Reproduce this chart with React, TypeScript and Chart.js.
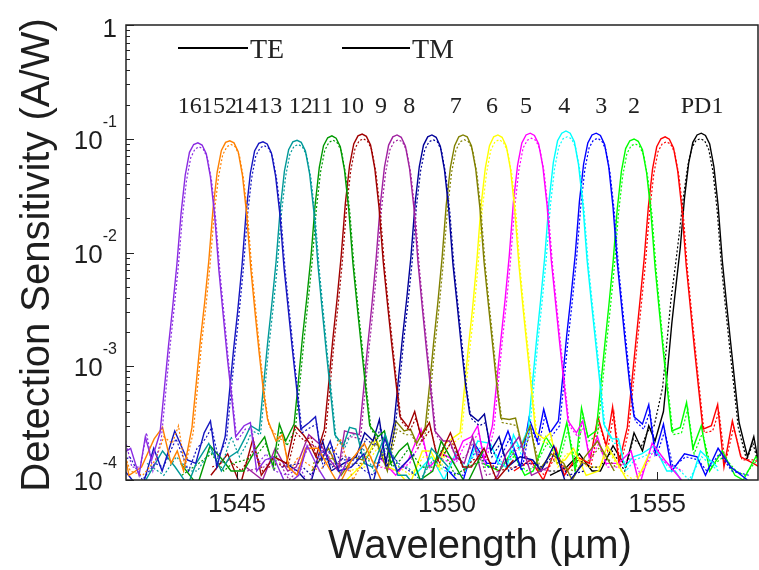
import React, { useEffect, useRef } from "react";
import { Chart, registerables } from "chart.js";

Chart.register(...registerables);

// ---------------- data ----------------
const X_MIN = 1542.36;
const X_MAX = 1557.4;
const Y_MIN = 1e-4;
const Y_MAX = 1;
const X_TICKS = [1545, 1550, 1555];
const Y_TICK_EXPONENTS = [0, -1, -2, -3, -4];

const CHANNEL_NAMES = ["16", "15", "14", "13", "12", "11", "10", "9", "8", "7", "6", "5", "4", "3", "2", "PD1"];
const CHANNEL_COLORS = ["#8A2BE2", "#FF8000", "#1515C0", "#009999", "#009900", "#A00000", "#A020A0", "#000099", "#808000", "#FFFF00", "#FF00FF", "#00FFFF", "#0000FF", "#00FF00", "#FF0000", "#000000"];

// wavelength offsets (nm) from each channel centre at which values were read: main lobe ...
const WAVELENGTH_OFFSETS = [-2.4, -1.8, -1.4, -1.1, -0.9, -0.8, -0.7, -0.6, -0.5, -0.4, -0.3, -0.2, -0.1, 0, 0.1, 0.2, 0.3, 0.4, 0.5, 0.6, 0.7, 0.8, 0.9, 1.1, 1.4, 1.8, 2.4];
// ... and the noise floor around it
const FLOOR_OFFSETS = [-3.6, -3.2, -2.9, -2.6, -2.1, -1.6, -1.25, 1.25, 1.6, 2.1, 2.6, 2.9, 3.2, 3.6];

const TE_CENTERS = [1544.07, 1544.83, 1545.62, 1546.43, 1547.26, 1547.98, 1548.81, 1549.64, 1550.38, 1551.21, 1551.98, 1552.83, 1553.55, 1554.45, 1555.19, 1556.05];
const TM_CENTERS = [1544.10, 1544.86, 1545.65, 1546.46, 1547.29, 1548.01, 1548.84, 1549.67, 1550.41, 1551.24, 1552.01, 1552.86, 1553.58, 1554.48, 1555.22, 1556.03];

const TE_CH16 = [1.3e-4, 1.7e-4, 1.1e-4, 1.5e-4, 2.6e-4, 6.2e-4, 1.5e-3, 3.3e-3, 7.8e-3, 0.022, 0.048, 0.076, 0.089, 0.092, 0.088, 0.074, 0.046, 0.021, 7.0e-3, 2.9e-3, 1.2e-3, 5.5e-4, 2.4e-4, 3.0e-4, 1.2e-4, 1.6e-4, 1.1e-4];
const TE_CH15 = [1.1e-4, 2.3e-4, 1.4e-4, 1.2e-4, 2.9e-4, 7.0e-4, 1.7e-3, 3.6e-3, 8.4e-3, 0.024, 0.051, 0.079, 0.093, 0.096, 0.092, 0.077, 0.048, 0.022, 7.2e-3, 3.0e-3, 1.3e-3, 6.0e-4, 3.4e-4, 2.2e-4, 1.3e-4, 1.9e-4, 1.2e-4];
const TE_CH14 = [1.2e-4, 1.5e-4, 2.6e-4, 1.3e-4, 2.4e-4, 5.8e-4, 1.4e-3, 3.1e-3, 7.6e-3, 0.023, 0.050, 0.078, 0.091, 0.094, 0.090, 0.075, 0.047, 0.022, 7.4e-3, 3.2e-3, 1.4e-3, 6.4e-4, 2.8e-4, 3.2e-4, 1.5e-4, 1.2e-4, 1.7e-4];
const TE_CH13 = [1.4e-4, 1.2e-4, 1.8e-4, 3.0e-4, 2.7e-4, 6.6e-4, 1.6e-3, 3.5e-3, 8.2e-3, 0.024, 0.052, 0.080, 0.094, 0.097, 0.093, 0.078, 0.049, 0.023, 7.6e-3, 3.1e-3, 1.3e-3, 5.8e-4, 2.5e-4, 2.0e-4, 2.8e-4, 1.3e-4, 1.1e-4];
const TE_CH12 = [1.2e-4, 1.9e-4, 1.3e-4, 2.2e-4, 3.1e-4, 7.2e-4, 1.8e-3, 3.9e-3, 9.0e-3, 0.026, 0.056, 0.087, 0.102, 0.106, 0.101, 0.085, 0.053, 0.024, 8.0e-3, 3.4e-3, 1.5e-3, 6.6e-4, 3.0e-4, 2.4e-4, 1.4e-4, 2.1e-4, 1.2e-4];
const TE_CH11 = [1.1e-4, 1.4e-4, 2.5e-4, 1.6e-4, 2.8e-4, 6.8e-4, 1.7e-3, 3.8e-3, 9.2e-3, 0.027, 0.058, 0.090, 0.106, 0.110, 0.105, 0.088, 0.055, 0.025, 8.4e-3, 3.6e-3, 1.6e-3, 7.4e-4, 3.6e-4, 2.9e-4, 2.4e-4, 1.5e-4, 1.3e-4];
const TE_CH10 = [1.3e-4, 2.0e-4, 1.2e-4, 2.6e-4, 2.5e-4, 6.0e-4, 1.5e-3, 3.4e-3, 8.6e-3, 0.026, 0.056, 0.088, 0.104, 0.108, 0.103, 0.086, 0.054, 0.025, 8.1e-3, 3.3e-3, 1.4e-3, 6.3e-4, 2.7e-4, 2.2e-4, 1.6e-4, 2.4e-4, 1.1e-4];
const TE_CH9 = [1.2e-4, 1.6e-4, 2.2e-4, 1.4e-4, 3.2e-4, 7.5e-4, 1.8e-3, 3.9e-3, 9.1e-3, 0.027, 0.057, 0.088, 0.104, 0.108, 0.103, 0.086, 0.053, 0.024, 7.9e-3, 3.5e-3, 1.5e-3, 6.9e-4, 3.8e-4, 3.3e-4, 1.8e-4, 1.3e-4, 1.5e-4];
const TE_CH8 = [1.5e-4, 1.2e-4, 2.7e-4, 2.1e-4, 2.9e-4, 6.6e-4, 1.6e-3, 3.6e-3, 8.8e-3, 0.026, 0.056, 0.087, 0.104, 0.108, 0.104, 0.087, 0.055, 0.025, 8.3e-3, 3.6e-3, 1.6e-3, 7.0e-4, 3.5e-4, 3.4e-4, 2.0e-4, 1.2e-4, 1.4e-4];
const TE_CH7 = [1.2e-4, 1.8e-4, 1.3e-4, 2.3e-4, 2.6e-4, 6.2e-4, 1.5e-3, 3.3e-3, 8.5e-3, 0.026, 0.055, 0.087, 0.104, 0.108, 0.103, 0.086, 0.054, 0.024, 7.8e-3, 3.2e-3, 1.4e-3, 6.1e-4, 2.6e-4, 2.3e-4, 1.4e-4, 1.9e-4, 1.2e-4];
const TE_CH6 = [1.3e-4, 1.5e-4, 2.4e-4, 1.5e-4, 3.0e-4, 7.1e-4, 1.7e-3, 3.8e-3, 9.3e-3, 0.028, 0.059, 0.092, 0.108, 0.112, 0.107, 0.090, 0.057, 0.026, 8.6e-3, 3.7e-3, 1.6e-3, 7.2e-4, 3.3e-4, 2.6e-4, 1.6e-4, 1.4e-4, 1.8e-4];
const TE_CH5 = [1.2e-4, 2.1e-4, 1.3e-4, 1.9e-4, 2.8e-4, 6.9e-4, 1.7e-3, 3.9e-3, 9.6e-3, 0.029, 0.062, 0.096, 0.112, 0.117, 0.112, 0.094, 0.059, 0.027, 8.8e-3, 3.8e-3, 1.7e-3, 7.6e-4, 3.1e-4, 2.3e-4, 1.3e-4, 1.7e-4, 1.2e-4];
const TE_CH4 = [1.4e-4, 1.3e-4, 2.2e-4, 2.6e-4, 3.3e-4, 7.8e-4, 1.9e-3, 4.1e-3, 9.5e-3, 0.028, 0.060, 0.092, 0.108, 0.112, 0.107, 0.089, 0.056, 0.025, 8.2e-3, 3.5e-3, 1.5e-3, 6.8e-4, 3.6e-4, 3.1e-4, 1.7e-4, 1.2e-4, 1.6e-4];
const TE_CH3 = [1.2e-4, 1.6e-4, 1.2e-4, 2.4e-4, 2.7e-4, 6.4e-4, 1.5e-3, 3.4e-3, 8.1e-3, 0.024, 0.052, 0.082, 0.096, 0.0995, 0.095, 0.080, 0.050, 0.023, 7.5e-3, 3.1e-3, 1.3e-3, 5.9e-4, 2.7e-4, 2.9e-4, 1.9e-4, 1.2e-4, 1.1e-4];
const TE_CH2 = [1.1e-4, 1.4e-4, 2.0e-4, 1.4e-4, 2.9e-4, 6.8e-4, 1.6e-3, 3.7e-3, 8.7e-3, 0.025, 0.054, 0.085, 0.100, 0.104, 0.099, 0.083, 0.052, 0.024, 7.8e-3, 3.3e-3, 1.4e-3, 6.2e-4, 2.8e-4, 3.0e-4, 1.3e-4, 1.6e-4, 1.2e-4];
const TE_PD1 = [1.2e-4, 1.3e-4, 1.8e-4, 2.2e-4, 4.0e-4, 9.5e-4, 2.4e-3, 5.2e-3, 0.011, 0.030, 0.061, 0.093, 0.108, 0.112, 0.107, 0.090, 0.057, 0.026, 8.5e-3, 3.6e-3, 1.6e-3, 7.1e-4, 3.2e-4, 1.6e-4, 1.2e-4, 2.2e-4, 1.5e-4];

const TM_CH16 = [1.8e-4, 2.6e-4, 1.3e-4, 1.2e-4, 2.3e-4, 5.6e-4, 1.4e-3, 3.1e-3, 7.2e-3, 0.020, 0.043, 0.068, 0.081, 0.085, 0.081, 0.067, 0.042, 0.019, 6.4e-3, 2.7e-3, 1.1e-3, 5.0e-4, 2.2e-4, 2.8e-4, 1.4e-4, 1.2e-4, 1.3e-4];
const TM_CH15 = [1.2e-4, 1.5e-4, 2.1e-4, 1.3e-4, 2.6e-4, 6.4e-4, 1.6e-3, 3.3e-3, 7.8e-3, 0.022, 0.046, 0.072, 0.085, 0.089, 0.085, 0.071, 0.044, 0.020, 6.7e-3, 2.8e-3, 1.2e-3, 5.6e-4, 3.0e-4, 2.4e-4, 1.2e-4, 1.4e-4, 1.6e-4];
const TM_CH14 = [1.3e-4, 1.2e-4, 2.3e-4, 1.6e-4, 2.2e-4, 5.4e-4, 1.3e-3, 2.9e-3, 7.0e-3, 0.021, 0.045, 0.071, 0.083, 0.087, 0.083, 0.069, 0.043, 0.020, 6.8e-3, 3.0e-3, 1.3e-3, 5.9e-4, 2.6e-4, 2.9e-4, 1.3e-4, 1.5e-4, 1.2e-4];
const TM_CH13 = [1.2e-4, 1.4e-4, 1.6e-4, 2.7e-4, 2.5e-4, 6.1e-4, 1.5e-3, 3.2e-3, 7.5e-3, 0.022, 0.047, 0.073, 0.086, 0.089, 0.085, 0.071, 0.045, 0.021, 7.0e-3, 2.9e-3, 1.2e-3, 5.4e-4, 2.3e-4, 1.9e-4, 2.5e-4, 1.2e-4, 1.3e-4];
const TM_CH12 = [1.4e-4, 1.7e-4, 1.2e-4, 2.0e-4, 2.8e-4, 6.6e-4, 1.6e-3, 3.6e-3, 8.3e-3, 0.024, 0.051, 0.079, 0.093, 0.097, 0.092, 0.077, 0.048, 0.022, 7.3e-3, 3.1e-3, 1.4e-3, 6.1e-4, 2.8e-4, 2.2e-4, 1.3e-4, 1.9e-4, 1.3e-4];
const TM_CH11 = [1.2e-4, 1.3e-4, 2.2e-4, 1.5e-4, 2.6e-4, 6.2e-4, 1.6e-3, 3.5e-3, 8.4e-3, 0.025, 0.053, 0.082, 0.096, 0.100, 0.095, 0.080, 0.050, 0.023, 7.7e-3, 3.3e-3, 1.5e-3, 6.8e-4, 3.3e-4, 2.7e-4, 2.2e-4, 1.4e-4, 1.2e-4];
const TM_CH10 = [1.2e-4, 1.8e-4, 1.3e-4, 2.4e-4, 2.3e-4, 5.5e-4, 1.4e-3, 3.1e-3, 7.9e-3, 0.024, 0.051, 0.080, 0.094, 0.098, 0.094, 0.078, 0.049, 0.023, 7.4e-3, 3.0e-3, 1.3e-3, 5.8e-4, 2.5e-4, 2.0e-4, 1.5e-4, 2.2e-4, 1.2e-4];
const TM_CH9 = [1.3e-4, 1.5e-4, 2.0e-4, 1.3e-4, 2.9e-4, 6.9e-4, 1.7e-3, 3.6e-3, 8.3e-3, 0.025, 0.052, 0.080, 0.094, 0.098, 0.094, 0.078, 0.048, 0.022, 7.2e-3, 3.2e-3, 1.4e-3, 6.3e-4, 3.5e-4, 3.0e-4, 1.6e-4, 1.2e-4, 1.4e-4];
const TM_CH8 = [1.4e-4, 1.3e-4, 2.5e-4, 1.9e-4, 2.7e-4, 6.1e-4, 1.5e-3, 3.3e-3, 8.0e-3, 0.024, 0.051, 0.079, 0.094, 0.098, 0.094, 0.079, 0.050, 0.023, 7.6e-3, 3.3e-3, 1.5e-3, 6.4e-4, 3.2e-4, 3.1e-4, 1.8e-4, 1.3e-4, 1.3e-4];
const TM_CH7 = [1.3e-4, 1.6e-4, 1.2e-4, 2.1e-4, 2.4e-4, 5.7e-4, 1.4e-3, 3.0e-3, 7.8e-3, 0.024, 0.050, 0.079, 0.094, 0.098, 0.093, 0.078, 0.049, 0.022, 7.1e-3, 2.9e-3, 1.3e-3, 5.6e-4, 2.4e-4, 2.1e-4, 1.3e-4, 1.7e-4, 1.3e-4];
const TM_CH6 = [1.2e-4, 1.4e-4, 2.2e-4, 1.4e-4, 2.7e-4, 6.5e-4, 1.6e-3, 3.5e-3, 8.5e-3, 0.025, 0.053, 0.083, 0.097, 0.101, 0.097, 0.081, 0.051, 0.023, 7.8e-3, 3.4e-3, 1.5e-3, 6.6e-4, 3.0e-4, 2.4e-4, 1.5e-4, 1.3e-4, 1.6e-4];
const TM_CH5 = [1.3e-4, 1.9e-4, 1.2e-4, 1.7e-4, 2.6e-4, 6.3e-4, 1.6e-3, 3.6e-3, 8.7e-3, 0.026, 0.055, 0.085, 0.100, 0.104, 0.100, 0.084, 0.053, 0.024, 8.0e-3, 3.5e-3, 1.6e-3, 7.0e-4, 2.9e-4, 2.1e-4, 1.2e-4, 1.6e-4, 1.3e-4];
const TM_CH4 = [1.3e-4, 1.2e-4, 2.0e-4, 2.4e-4, 3.0e-4, 7.1e-4, 1.7e-3, 3.7e-3, 8.6e-3, 0.025, 0.054, 0.083, 0.097, 0.101, 0.096, 0.080, 0.050, 0.023, 7.5e-3, 3.2e-3, 1.4e-3, 6.2e-4, 3.3e-4, 2.8e-4, 1.6e-4, 1.3e-4, 1.5e-4];
const TM_CH3 = [1.3e-4, 1.5e-4, 1.3e-4, 2.2e-4, 2.5e-4, 5.9e-4, 1.4e-3, 3.1e-3, 7.4e-3, 0.022, 0.047, 0.074, 0.087, 0.090, 0.086, 0.072, 0.045, 0.021, 6.8e-3, 2.8e-3, 1.2e-3, 5.4e-4, 2.5e-4, 2.6e-4, 1.7e-4, 1.3e-4, 1.2e-4];
const TM_CH2 = [1.2e-4, 1.3e-4, 1.8e-4, 1.3e-4, 2.7e-4, 6.2e-4, 1.5e-3, 3.4e-3, 7.9e-3, 0.023, 0.049, 0.077, 0.090, 0.094, 0.090, 0.075, 0.047, 0.022, 7.1e-3, 3.0e-3, 1.3e-3, 5.7e-4, 2.6e-4, 2.7e-4, 1.4e-4, 1.5e-4, 1.3e-4];
const TM_PD1 = [1.3e-4, 1.2e-4, 2.0e-4, 3.0e-4, 6.5e-4, 1.6e-3, 3.9e-3, 7.5e-3, 0.015, 0.032, 0.058, 0.084, 0.097, 0.100, 0.096, 0.080, 0.051, 0.023, 7.6e-3, 3.2e-3, 1.4e-3, 6.4e-4, 2.9e-4, 1.5e-4, 1.3e-4, 2.0e-4, 1.4e-4];

// noise floor readings (at FLOOR_OFFSETS)
const TE_FLOOR_CH16 = [0.9e-4, 1.4e-4, 2.2e-4, 1.1e-4, 0.8e-4, 1.9e-4, 2.4e-4, 3.2e-4, 1.5e-4, 0.9e-4, 2.0e-4, 1.2e-4, 0.8e-4, 1.6e-4];
const TE_FLOOR_CH15 = [1.2e-4, 0.8e-4, 1.7e-4, 2.6e-4, 1.3e-4, 2.9e-4, 1.8e-4, 2.5e-4, 1.1e-4, 1.9e-4, 0.9e-4, 1.5e-4, 2.1e-4, 1.0e-4];
const TE_FLOOR_CH14 = [1.6e-4, 1.1e-4, 0.8e-4, 1.9e-4, 2.7e-4, 1.4e-4, 3.3e-4, 3.6e-4, 2.2e-4, 1.3e-4, 0.9e-4, 2.3e-4, 1.2e-4, 1.7e-4];
const TE_FLOOR_CH13 = [1.0e-4, 1.8e-4, 1.3e-4, 0.9e-4, 2.1e-4, 1.6e-4, 2.3e-4, 2.9e-4, 1.4e-4, 2.5e-4, 1.1e-4, 0.8e-4, 1.9e-4, 1.3e-4];
const TE_FLOOR_CH12 = [1.4e-4, 0.9e-4, 2.0e-4, 1.5e-4, 1.2e-4, 2.4e-4, 3.1e-4, 2.7e-4, 1.8e-4, 1.0e-4, 2.2e-4, 1.4e-4, 0.9e-4, 1.8e-4];
const TE_FLOOR_CH11 = [1.1e-4, 1.7e-4, 0.9e-4, 2.3e-4, 1.6e-4, 3.0e-4, 2.1e-4, 4.0e-4, 3.2e-4, 2.6e-4, 1.3e-4, 1.9e-4, 1.0e-4, 1.5e-4];
const TE_FLOOR_CH10 = [1.3e-4, 1.0e-4, 1.9e-4, 1.2e-4, 2.5e-4, 1.5e-4, 2.7e-4, 2.2e-4, 1.4e-4, 0.8e-4, 1.7e-4, 2.4e-4, 1.1e-4, 1.3e-4];
const TE_FLOOR_CH9 = [1.5e-4, 1.2e-4, 0.9e-4, 2.2e-4, 1.4e-4, 2.6e-4, 3.4e-4, 3.8e-4, 2.4e-4, 1.6e-4, 1.2e-4, 2.0e-4, 0.9e-4, 1.4e-4];
const TE_FLOOR_CH8 = [1.2e-4, 1.9e-4, 1.1e-4, 1.6e-4, 2.4e-4, 3.3e-4, 2.8e-4, 3.5e-4, 3.0e-4, 1.7e-4, 1.0e-4, 1.6e-4, 2.2e-4, 1.2e-4];
const TE_FLOOR_CH7 = [1.0e-4, 1.4e-4, 2.3e-4, 1.3e-4, 0.9e-4, 1.8e-4, 2.1e-4, 2.6e-4, 1.5e-4, 1.1e-4, 2.0e-4, 1.3e-4, 0.8e-4, 1.7e-4];
const TE_FLOOR_CH6 = [1.6e-4, 1.1e-4, 1.5e-4, 2.8e-4, 1.7e-4, 2.2e-4, 3.0e-4, 3.3e-4, 2.4e-4, 1.4e-4, 0.9e-4, 2.1e-4, 1.5e-4, 1.0e-4];
const TE_FLOOR_CH5 = [1.1e-4, 1.6e-4, 1.0e-4, 1.8e-4, 2.2e-4, 1.4e-4, 2.5e-4, 2.3e-4, 1.6e-4, 2.0e-4, 1.2e-4, 0.8e-4, 1.8e-4, 1.3e-4];
const TE_FLOOR_CH4 = [1.3e-4, 0.9e-4, 2.1e-4, 1.4e-4, 2.7e-4, 3.5e-4, 4.2e-4, 4.6e-4, 3.1e-4, 1.7e-4, 1.1e-4, 1.9e-4, 1.3e-4, 1.0e-4];
const TE_FLOOR_CH3 = [1.4e-4, 1.2e-4, 1.8e-4, 1.1e-4, 2.4e-4, 3.2e-4, 4.3e-4, 4.8e-4, 3.0e-4, 1.8e-4, 1.0e-4, 1.6e-4, 1.2e-4, 1.5e-4];
const TE_FLOOR_CH2 = [1.2e-4, 1.5e-4, 1.0e-4, 1.9e-4, 1.6e-4, 3.6e-4, 4.4e-4, 4.6e-4, 3.3e-4, 1.4e-4, 1.2e-4, 1.7e-4, 1.1e-4, 1.3e-4];
const TE_FLOOR_PD1 = [1.1e-4, 1.3e-4, 1.7e-4, 1.2e-4, 2.0e-4, 2.6e-4, 3.0e-4, 2.4e-4, 1.8e-4, 2.2e-4, 1.3e-4, 1.0e-4, 1.2e-4, 1.1e-4];

const TM_FLOOR_CH16 = [1.5e-4, 1.2e-4, 2.5e-4, 1.6e-4, 2.1e-4, 1.3e-4, 2.6e-4, 2.8e-4, 1.7e-4, 1.1e-4, 0.9e-4, 1.8e-4, 1.4e-4, 1.2e-4];
const TM_FLOOR_CH15 = [1.0e-4, 1.5e-4, 1.2e-4, 2.0e-4, 1.1e-4, 2.4e-4, 3.0e-4, 2.2e-4, 1.6e-4, 1.2e-4, 2.3e-4, 1.0e-4, 1.6e-4, 1.3e-4];
const TM_FLOOR_CH14 = [1.3e-4, 1.6e-4, 1.0e-4, 1.4e-4, 2.3e-4, 1.9e-4, 2.9e-4, 3.1e-4, 2.0e-4, 1.5e-4, 1.1e-4, 1.9e-4, 1.4e-4, 1.1e-4];
const TM_FLOOR_CH13 = [1.4e-4, 1.1e-4, 1.6e-4, 1.2e-4, 1.8e-4, 2.4e-4, 2.0e-4, 2.5e-4, 1.7e-4, 2.1e-4, 1.3e-4, 1.0e-4, 1.5e-4, 1.2e-4];
const TM_FLOOR_CH12 = [1.1e-4, 1.4e-4, 1.7e-4, 1.2e-4, 1.5e-4, 2.1e-4, 2.7e-4, 2.4e-4, 1.5e-4, 1.3e-4, 1.9e-4, 1.1e-4, 1.3e-4, 1.5e-4];
const TM_FLOOR_CH11 = [1.3e-4, 1.5e-4, 1.2e-4, 1.9e-4, 1.4e-4, 2.6e-4, 2.4e-4, 3.5e-4, 2.8e-4, 2.2e-4, 1.5e-4, 1.6e-4, 1.2e-4, 1.3e-4];
const TM_FLOOR_CH10 = [1.2e-4, 1.3e-4, 1.6e-4, 1.0e-4, 2.1e-4, 1.7e-4, 2.3e-4, 2.0e-4, 1.6e-4, 1.1e-4, 1.5e-4, 2.0e-4, 1.3e-4, 1.2e-4];
const TM_FLOOR_CH9 = [1.3e-4, 1.4e-4, 1.1e-4, 1.8e-4, 1.6e-4, 2.3e-4, 2.9e-4, 3.2e-4, 2.1e-4, 1.4e-4, 1.3e-4, 1.7e-4, 1.1e-4, 1.2e-4];
const TM_FLOOR_CH8 = [1.4e-4, 1.6e-4, 1.3e-4, 1.4e-4, 2.1e-4, 2.8e-4, 2.5e-4, 3.0e-4, 2.6e-4, 1.5e-4, 1.2e-4, 1.4e-4, 1.9e-4, 1.3e-4];
const TM_FLOOR_CH7 = [1.2e-4, 1.3e-4, 1.9e-4, 1.5e-4, 1.1e-4, 1.6e-4, 1.9e-4, 2.3e-4, 1.7e-4, 1.3e-4, 1.8e-4, 1.2e-4, 1.0e-4, 1.5e-4];
const TM_FLOOR_CH6 = [1.3e-4, 1.2e-4, 1.4e-4, 2.3e-4, 1.5e-4, 2.0e-4, 2.6e-4, 2.9e-4, 2.1e-4, 1.3e-4, 1.1e-4, 1.8e-4, 1.4e-4, 1.2e-4];
const TM_FLOOR_CH5 = [1.2e-4, 1.4e-4, 1.2e-4, 1.6e-4, 1.9e-4, 1.5e-4, 2.2e-4, 2.1e-4, 1.5e-4, 1.8e-4, 1.3e-4, 1.0e-4, 1.6e-4, 1.2e-4];
const TM_FLOOR_CH4 = [1.2e-4, 1.1e-4, 1.8e-4, 1.3e-4, 2.3e-4, 3.0e-4, 3.7e-4, 4.0e-4, 2.7e-4, 1.6e-4, 1.2e-4, 1.7e-4, 1.2e-4, 1.1e-4];
const TM_FLOOR_CH3 = [1.3e-4, 1.3e-4, 1.6e-4, 1.2e-4, 2.1e-4, 2.8e-4, 3.8e-4, 4.2e-4, 2.6e-4, 1.6e-4, 1.1e-4, 1.5e-4, 1.3e-4, 1.4e-4];
const TM_FLOOR_CH2 = [1.3e-4, 1.4e-4, 1.1e-4, 1.7e-4, 1.5e-4, 3.1e-4, 3.9e-4, 4.0e-4, 2.9e-4, 1.5e-4, 1.3e-4, 1.5e-4, 1.2e-4, 1.2e-4];
const TM_FLOOR_PD1 = [1.2e-4, 1.2e-4, 1.5e-4, 1.3e-4, 1.8e-4, 2.3e-4, 2.7e-4, 2.1e-4, 1.6e-4, 2.0e-4, 1.4e-4, 1.1e-4, 1.3e-4, 1.2e-4];

const TE_SERIES = [TE_CH16, TE_CH15, TE_CH14, TE_CH13, TE_CH12, TE_CH11, TE_CH10, TE_CH9, TE_CH8, TE_CH7, TE_CH6, TE_CH5, TE_CH4, TE_CH3, TE_CH2, TE_PD1];
const TM_SERIES = [TM_CH16, TM_CH15, TM_CH14, TM_CH13, TM_CH12, TM_CH11, TM_CH10, TM_CH9, TM_CH8, TM_CH7, TM_CH6, TM_CH5, TM_CH4, TM_CH3, TM_CH2, TM_PD1];
const TE_FLOORS = [TE_FLOOR_CH16, TE_FLOOR_CH15, TE_FLOOR_CH14, TE_FLOOR_CH13, TE_FLOOR_CH12, TE_FLOOR_CH11, TE_FLOOR_CH10, TE_FLOOR_CH9, TE_FLOOR_CH8, TE_FLOOR_CH7, TE_FLOOR_CH6, TE_FLOOR_CH5, TE_FLOOR_CH4, TE_FLOOR_CH3, TE_FLOOR_CH2, TE_FLOOR_PD1];
const TM_FLOORS = [TM_FLOOR_CH16, TM_FLOOR_CH15, TM_FLOOR_CH14, TM_FLOOR_CH13, TM_FLOOR_CH12, TM_FLOOR_CH11, TM_FLOOR_CH10, TM_FLOOR_CH9, TM_FLOOR_CH8, TM_FLOOR_CH7, TM_FLOOR_CH6, TM_FLOOR_CH5, TM_FLOOR_CH4, TM_FLOOR_CH3, TM_FLOOR_CH2, TM_FLOOR_PD1];

// channel annotations across the top (text and wavelength position)
const LABEL_TEXTS = ["16", "15", "2", "14", "13", "12", "11", "10", "9", "8", "7", "6", "5", "4", "3", "2", "PD1"];
const LABEL_WAVELENGTHS = [1543.88, 1544.43, 1544.86, 1545.21, 1545.79, 1546.52, 1547.02, 1547.74, 1548.43, 1549.10, 1550.21, 1551.07, 1551.88, 1552.79, 1553.67, 1554.45, 1556.07];

const LEGEND_TEXTS = ["TE", "TM"];

// ---------------- drawing helpers ----------------
const SANS = '"Liberation Sans", Arial, sans-serif';
const SERIF = '"Liberation Serif", "Times New Roman", serif';
const TEXT_COLOR = "#1e1e1e";

function buildPoints(center: number, lobe: number[], floor: number[]) {
  const pts = lobe.map((v, j) => ({ x: center + WAVELENGTH_OFFSETS[j], y: v }));
  floor.forEach((v, j) => pts.push({ x: center + FLOOR_OFFSETS[j], y: v }));
  pts.sort((a, b) => a.x - b.x);
  return pts;
}

const decorPlugin = {
  id: "decor",
  beforeDraw(chart: any) {
    const { ctx, width, height } = chart;
    ctx.save();
    ctx.fillStyle = "#ffffff";
    ctx.fillRect(0, 0, width, height);
    ctx.restore();
  },
  afterDraw(chart: any) {
    const { ctx, chartArea: ca, scales } = chart;
    const xs = scales.x;
    const ys = scales.y;
    ctx.save();

    // frame
    ctx.strokeStyle = "#222";
    ctx.lineWidth = 1.5;
    ctx.strokeRect(ca.left, ca.top, ca.right - ca.left, ca.bottom - ca.top);

    // inward ticks on the left axis
    ctx.lineWidth = 1;
    ctx.beginPath();
    for (let e = -4; e <= 0; e++) {
      const py = Math.round(ys.getPixelForValue(Math.pow(10, e))) + 0.5;
      ctx.moveTo(ca.left, py);
      ctx.lineTo(ca.left + 8, py);
      if (e < 0) {
        for (let m = 2; m <= 9; m++) {
          const pm = Math.round(ys.getPixelForValue(m * Math.pow(10, e))) + 0.5;
          ctx.moveTo(ca.left, pm);
          ctx.lineTo(ca.left + 4, pm);
        }
      }
    }
    for (const t of X_TICKS) {
      const px = Math.round(xs.getPixelForValue(t)) + 0.5;
      ctx.moveTo(px, ca.bottom);
      ctx.lineTo(px, ca.bottom - 8);
    }
    ctx.stroke();

    // y tick labels (10 with superscript exponent)
    ctx.fillStyle = TEXT_COLOR;
    ctx.textAlign = "right";
    ctx.textBaseline = "alphabetic";
    const rightX = 117;
    for (const e of Y_TICK_EXPONENTS) {
      const py = ys.getPixelForValue(Math.pow(10, e));
      if (e === 0) {
        ctx.font = `26px ${SANS}`;
        ctx.fillText("1", rightX, py + 12);
      } else {
        const sup = String(e);
        ctx.font = `16px ${SANS}`;
        const sw = ctx.measureText(sup).width;
        ctx.fillText(sup, rightX, py - 12);
        ctx.font = `26px ${SANS}`;
        ctx.fillText("10", rightX - sw, py + 10);
      }
    }

    // x tick labels
    ctx.textAlign = "center";
    ctx.font = `26px ${SANS}`;
    for (const t of X_TICKS) {
      ctx.fillText(String(t), xs.getPixelForValue(t), 512);
    }

    // axis titles
    ctx.font = `40px ${SANS}`;
    ctx.fillText("Wavelength (\u00b5m)", 480, 558);
    ctx.save();
    ctx.translate(49, 255);
    ctx.rotate(-Math.PI / 2);
    ctx.fillText("Detection Sensitivity (A/W)", 0, 0);
    ctx.restore();

    // channel labels
    ctx.font = `24px ${SERIF}`;
    ctx.fillStyle = "#222";
    LABEL_TEXTS.forEach((txt, i) => {
      ctx.fillText(txt, xs.getPixelForValue(LABEL_WAVELENGTHS[i]), 113);
    });

    // legend
    ctx.strokeStyle = "#000";
    ctx.lineWidth = 2;
    const legendY = 48;
    const entries = [
      { x0: 178, x1: 248 },
      { x0: 342, x1: 410 },
    ];
    ctx.font = `28px ${SERIF}`;
    ctx.textAlign = "left";
    entries.forEach((en, i) => {
      ctx.beginPath();
      ctx.moveTo(en.x0, legendY);
      ctx.lineTo(en.x1, legendY);
      ctx.stroke();
      ctx.fillText(LEGEND_TEXTS[i], en.x1 + 2, legendY + 10);
    });

    ctx.restore();
  },
};

export default function App() {
  const canvasRef = useRef<HTMLCanvasElement | null>(null);

  useEffect(() => {
    const canvas = canvasRef.current;
    if (!canvas) return;

    const datasets: any[] = [];
    CHANNEL_NAMES.forEach((name, i) => {
      datasets.push({
        label: `TE ${name}`,
        data: buildPoints(TE_CENTERS[i], TE_SERIES[i], TE_FLOORS[i]),
        borderColor: CHANNEL_COLORS[i],
        borderWidth: 1.4,
        pointRadius: 0,
        tension: 0,
        fill: false,
      });
      datasets.push({
        label: `TM ${name}`,
        data: buildPoints(TM_CENTERS[i], TM_SERIES[i], TM_FLOORS[i]),
        borderColor: CHANNEL_COLORS[i],
        borderWidth: 1.2,
        borderDash: [2, 2],
        pointRadius: 0,
        tension: 0,
        fill: false,
      });
    });

    const chart = new Chart(canvas, {
      type: "line",
      data: { datasets },
      options: {
        responsive: false,
        animation: false,
        devicePixelRatio: 1,
        events: [],
        layout: { padding: { top: 25, right: 1, left: 0, bottom: 0 } },
        plugins: { legend: { display: false }, tooltip: { enabled: false } },
        scales: {
          x: {
            type: "linear",
            min: X_MIN,
            max: X_MAX,
            grid: { display: false },
            border: { display: false },
            ticks: { display: false },
            afterFit: (s: any) => {
              s.height = 90;
            },
          },
          y: {
            type: "logarithmic",
            min: Y_MIN,
            max: Y_MAX,
            grid: { display: false },
            border: { display: false },
            ticks: { display: false },
            afterFit: (s: any) => {
              s.width = 126;
            },
          },
        },
      },
      plugins: [decorPlugin],
    } as any);

    return () => chart.destroy();
  }, []);

  return (
    <div style={{ position: "fixed", left: 0, top: 0, width: 759, height: 570, background: "#fff" }}>
      <canvas ref={canvasRef} width={759} height={570} style={{ display: "block" }} />
    </div>
  );
}
